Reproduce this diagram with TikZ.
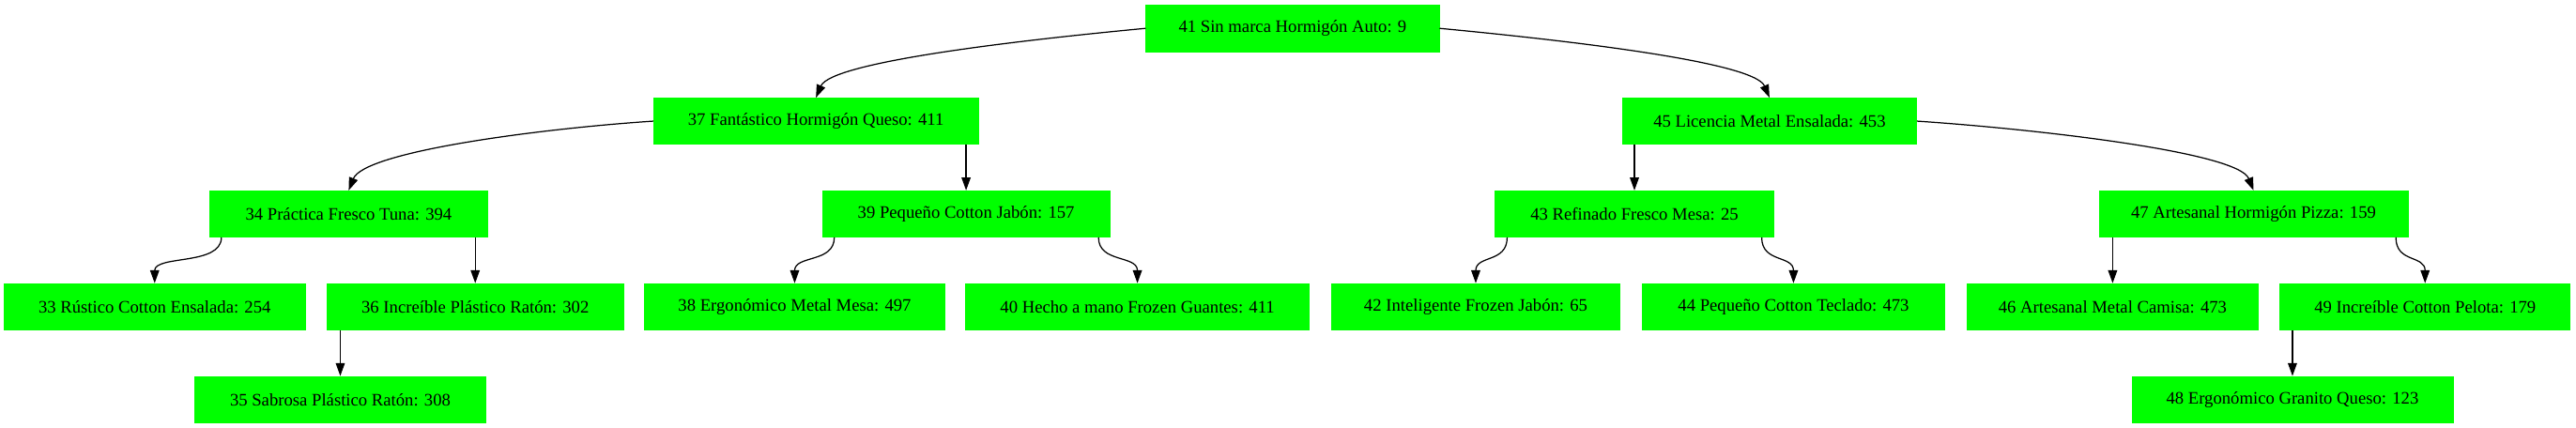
\documentclass[tikz,border=0pt]{standalone}
\usepackage{fontspec}
\setmainfont{Liberation Serif}
\usetikzlibrary{arrows.meta,calc}
\definecolor{boxgreen}{RGB}{0,255,0}
\begin{document}
\begin{tikzpicture}[x=1pt,y=-1pt,
  tbox/.style={rectangle, fill=boxgreen, draw=boxgreen, line width=0.5pt, minimum height=36pt, inner sep=0pt, font=\fontsize{13.6pt}{16pt}\selectfont, text=black},
  edge/.style={draw=black, line width=0.9pt, -{Triangle[length=10pt,width=7pt]}}]
\useasboundingbox (0,0) rectangle (1998.5,332);
% rank 1
\node[tbox, minimum width=227.6pt] (n41) at (1002.8,22) {41 Sin marca Hormigón Auto: 9};
% rank 2
\node[tbox, minimum width=252pt] (n37) at (633,94) {37 Fantástico Hormigón Queso: 411};
\node[tbox, minimum width=228.4pt] (n45) at (1372.8,94) {45 Licencia Metal Ensalada: 453};
% rank 3
\node[tbox, minimum width=215pt] (n34) at (270.5,166) {34 Práctica Fresco Tuna: 394};
\node[tbox, minimum width=223pt] (n39) at (749.5,166) {39 Pequeño Cotton Jabón: 157};
\node[tbox, minimum width=216pt] (n43) at (1268,166) {43 Refinado Fresco Mesa: 25};
\node[tbox, minimum width=239.4pt] (n47) at (1748.3,166) {47 Artesanal Hormigón Pizza: 159};
% rank 4
\node[tbox, minimum width=233.7pt] (n33) at (120,238) {33 Rústico Cotton Ensalada: 254};
\node[tbox, minimum width=230pt] (n36) at (368.7,238) {36 Increíble Plástico Ratón: 302};
\node[tbox, minimum width=233pt] (n38) at (616.5,238) {38 Ergonómico Metal Mesa: 497};
\node[tbox, minimum width=266.7pt] (n40) at (882.4,238) {40 Hecho a mano Frozen Guantes: 411};
\node[tbox, minimum width=224pt] (n42) at (1144.9,238) {42 Inteligente Frozen Jabón: 65};
\node[tbox, minimum width=235pt] (n44) at (1391.4,238) {44 Pequeño Cotton Teclado: 473};
\node[tbox, minimum width=226pt] (n46) at (1639,238) {46 Artesanal Metal Camisa: 473};
\node[tbox, minimum width=225pt] (n49) at (1881.4,238) {49 Increíble Cotton Pelota: 179};
% rank 5
\node[tbox, minimum width=226pt] (n35) at (264,310) {35 Sabrosa Plástico Ratón: 308};
\node[tbox, minimum width=249pt] (n48) at (1778.5,310) {48 Ergonómico Granito Queso: 123};
% edges
\draw[edge] (n41.west) .. controls ($(n41.west)+(-95,9)$) and ($(n37.north)+(12,-28)$) .. (n37.north);
\draw[edge] (n41.east) .. controls ($(n41.east)+(95,9)$) and ($(n45.north)+(-12,-28)$) .. (n45.north);
\draw[edge] (n37.west) .. controls ($(n37.west)+(-90,6)$) and ($(n34.north)+(12,-30)$) .. (n34.north);
\draw[edge] (n37.south -| n39.north) -- (n39.north);
\draw[edge] (n45.south -| n43.north) -- (n43.north);
\draw[edge] (n45.east) .. controls ($(n45.east)+(90,6)$) and ($(n47.north)+(-12,-30)$) .. (n47.north);
% rank 3 -> 4
\coordinate (s34l) at ($(n34.south west)+(9,0)$);
\coordinate (s39l) at ($(n39.south west)+(9.5,0)$);
\coordinate (s39r) at ($(n39.south east)+(-9,0)$);
\coordinate (s43l) at ($(n43.south west)+(9.5,0)$);
\coordinate (s43r) at ($(n43.south east)+(-9.5,0)$);
\coordinate (s47r) at ($(n47.south east)+(-9.5,0)$);
\draw[edge] (s34l) .. controls ($(s34l)+(0,22)$) and ($(n33.north)+(0,-22)$) .. (n33.north);
\draw[edge] (n34.south -| n36.north) -- (n36.north);
\draw[edge] (s39l) .. controls ($(s39l)+(0,20)$) and ($(n38.north)+(0,-22)$) .. (n38.north);
\draw[edge] (s39r) .. controls ($(s39r)+(0,20)$) and ($(n40.north)+(0,-22)$) .. (n40.north);
\draw[edge] (s43l) .. controls ($(s43l)+(0,20)$) and ($(n42.north)+(0,-22)$) .. (n42.north);
\draw[edge] (s43r) .. controls ($(s43r)+(0,20)$) and ($(n44.north)+(0,-22)$) .. (n44.north);
\draw[edge] (n47.south -| n46.north) -- (n46.north);
\draw[edge] (s47r) .. controls ($(s47r)+(0,20)$) and ($(n49.north)+(0,-22)$) .. (n49.north);
% rank 4 -> 5
\draw[edge] (n36.south -| n35.north) -- (n35.north);
\draw[edge] (n49.south -| n48.north) -- (n48.north);
\end{tikzpicture}
\end{document}
